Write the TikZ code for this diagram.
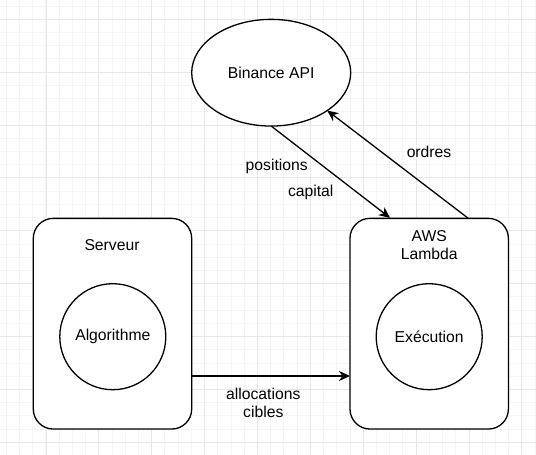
\documentclass[tikz,border=0pt]{standalone}
\usepackage{fontspec}
\setmainfont{Liberation Sans}
\usetikzlibrary{shapes.geometric,arrows.meta,calc}
\definecolor{minorgrid}{RGB}{245,245,245}
\definecolor{majorgrid}{RGB}{232,232,232}
\begin{document}
\begin{tikzpicture}[x=1pt,y=-1pt,
  every node/.style={font=\fontsize{15.7}{18.8}\selectfont, inner sep=0pt, outer sep=0pt},
  shapebox/.style={draw, line width=1.3pt, rounded corners=20pt, minimum width=158.4pt, minimum height=210.7pt, fill=white},
  roundshape/.style={draw, line width=1.3pt, circle, minimum size=106pt, fill=white},
  apishape/.style={draw, line width=1.3pt, ellipse, minimum width=159pt, minimum height=106.7pt, fill=white},
  flow/.style={line width=1.3pt, -{Stealth[length=11pt,width=10pt,inset=3.5pt]}},
  lbl/.style={anchor=base}]
\useasboundingbox (0,0) rectangle (536,455);
\fill[white] (0,0) rectangle (536,455);
% grid
\foreach \i in {0,...,40} {
  \draw[minorgrid, line width=1pt] ({6.33+13.22*\i},0) -- ({6.33+13.22*\i},455);
  \draw[minorgrid, line width=1pt] (0,{6.08+13.22*\i}) -- (536,{6.08+13.22*\i});
}
\foreach \j in {0,...,10} {
  \draw[majorgrid, line width=1pt] ({-6.88+52.88*\j},0) -- ({-6.88+52.88*\j},455);
  \draw[majorgrid, line width=1pt] (0,{19.3+52.88*\j}) -- (536,{19.3+52.88*\j});
}
% shapes
\node[apishape] (bin) at (271.2,72.7) {Binance API};
\node[shapebox] (srv) at (112.5,323.7) {};
\node[shapebox] (aws) at (429.2,323.7) {};
\node[roundshape] (algo) at (112.8,336.7) {Algorithme};
\node[roundshape] (exec) at (429.2,336.7) {Exécution};
\node[lbl] (srvlbl) at (112,250.7) {Serveur};
\node[align=center] (awslbl) at (429.2,245) {AWS\\Lambda};
% connectors
\draw[flow] (bin.south) -- ($(aws.north)+(-39.2,-0.5)$);
\draw[flow] ($(aws.north)+(39.1,0)$) -- (bin.-34);
\draw[flow] ($(srv.east)+(0,52.3)$) -- ($(aws.west)+(0,52.3)$);
% connector labels
\node[lbl] (lpos) at (276.7,170) {positions};
\node[lbl] (lcap) at (310.7,196.7) {capital};
\node[lbl] (lord) at (429,157.3) {ordres};
\node[align=center] (lalloc) at (263.3,402.8) {allocations\\cibles};
\end{tikzpicture}
\end{document}
